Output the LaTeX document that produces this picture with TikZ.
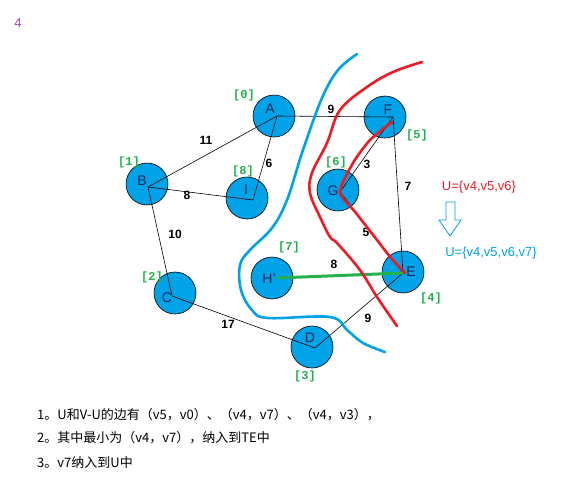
\documentclass[tikz,border=0pt]{standalone}
\usepackage{fontspec}
\setmainfont{Liberation Sans}
\newfontfamily\cjk{Noto Sans CJK SC}
\newfontfamily\monob{Liberation Mono}
\definecolor{pblue}{RGB}{0,162,232}
\definecolor{pred}{RGB}{237,28,36}
\definecolor{pgreen}{RGB}{34,177,76}
\definecolor{ppurple}{RGB}{163,73,164}
\definecolor{letterc}{RGB}{20,40,90}
\begin{document}
\begin{tikzpicture}[x=1pt,y=-1pt,
  vert/.style={circle,draw=black,fill=pblue,minimum size=42pt,inner sep=0pt,line width=0.6pt},
  lett/.style={font=\fontsize{14}{14}\selectfont,text=letterc,inner sep=0pt},
  idx/.style={font=\monob\bfseries\fontsize{12}{12}\selectfont,text=pgreen,inner sep=0pt},
  wt/.style={font=\bfseries\fontsize{12}{12}\selectfont,inner sep=0pt},
  edg/.style={black,line width=0.6pt},
  freehand/.style={line width=2.6pt,line cap=round,line join=round},
  txt/.style={font=\cjk\fontsize{13}{13}\selectfont,anchor=west,inner sep=0pt}]
\useasboundingbox (0,0) rectangle (586,480);
\fill[white] (0,0) rectangle (586,480);
\node[font=\fontsize{13}{13}\selectfont,text=ppurple] (title) at (18,23) {4};
% vertices
\node[vert] (A) at (274,116) {};
\node[vert] (B) at (147,184) {};
\node[vert] (I) at (247,198) {};
\node[vert] (F) at (385,117) {};
\node[vert] (G) at (338,190) {};
\node[vert] (C) at (175,293) {};
\node[vert] (H) at (272,278) {};
\node[vert] (D) at (312,347) {};
\node[vert] (E) at (403,272) {};
\node[lett] (lA) at (270,109) {A};
\node[lett] (lB) at (142,181) {B};
\node[lett] (lI) at (246,190) {I};
\node[lett] (lF) at (388,110) {F};
\node[lett] (lG) at (333,191) {G};
\node[lett] (lH) at (269,279) {H'};
\node[lett] (lC) at (167,298) {C};
\node[lett] (lD) at (310,338) {D};
\node[lett] (lE) at (411,272) {E};
% edge points
\coordinate (pA) at (277,116);
\coordinate (pB) at (148,187);
\coordinate (pI) at (253,200);
\coordinate (pF) at (393,117);
\coordinate (pG) at (340,192);
\coordinate (pC) at (172,296);
\coordinate (pH) at (277,278);
\coordinate (pD) at (315,348);
\coordinate (pE) at (403,273);
% edges
\draw[edg] (pB) -- (pA);
\draw[edg] (pB) -- (pI);
\draw[edg] (pI) -- (pA);
\draw[edg] (pA) -- (pF);
\draw[edg] (pF) -- (pE);
\draw[edg] (pG) -- (pF);
\draw[edg] (pG) -- (pE);
\draw[edg] (pB) -- (pC);
\draw[edg] (pC) -- (pD);
\draw[edg] (pD) -- (pE);
\draw[edg] (pH) -- (pE);
\draw[pgreen,line width=3pt] (pH) -- (pE);
% weights
\node[wt] (w11) at (206,140) {11};
\node[wt] (w8a) at (187,195) {8};
\node[wt] (w6) at (269,163) {6};
\node[wt] (w9a) at (331,109) {9};
\node[wt] (w3) at (367,164) {3};
\node[wt] (w7) at (408,186) {7};
\node[wt] (w5) at (366,232) {5};
\node[wt] (w10) at (175,234) {10};
\node[wt] (w8b) at (334,264) {8};
\node[wt] (w17) at (228,324) {17};
\node[wt] (w9b) at (368,318) {9};
% indices
\node[idx] (iA) at (244,95) {[0]};
\node[idx] (iB) at (129,162) {[1]};
\node[idx] (iI) at (243,171) {[8]};
\node[idx] (iF) at (417,135) {[5]};
\node[idx] (iG) at (336,162) {[6]};
\node[idx] (iH) at (289,247) {[7]};
\node[idx] (iC) at (152,277) {[2]};
\node[idx] (iD) at (305,376) {[3]};
\node[idx] (iE) at (431,298) {[4]};
% freehand curves
\draw[freehand,pblue] plot[smooth,tension=0.6] coordinates {(357,54) (338,70) (322,98) (303,150) (287,200) (272,228) (250,250) (240,265) (241,290) (252,310) (268,318) (330,317) (347,330) (363,343) (385,352)};
\draw[freehand,pred] plot[smooth,tension=0.6] coordinates {(422,62) (393,72) (367,87) (340,110) (327,143) (312,173) (310,193) (320,217) (330,237) (337,243) (360,270) (377,297) (397,326)};
\draw[freehand,pred] plot[smooth,tension=0.4] coordinates {(392,122) (370,140) (353,163) (340,192) (356,213) (377,240) (391,258) (405,273)};
% right texts
\node[font=\fontsize{13}{13}\selectfont,text=pred] (U1) at (479,187) {U=\{v4,v5,v6\}};
\draw[pblue,line width=0.8pt,line join=miter] (446,202) -- (455,202) -- (455,220) -- (461,220) -- (450,236) -- (439,220) -- (446,220) -- cycle;
\node[font=\fontsize{13}{13}\selectfont,text=pblue] (U2) at (491,253) {U=\{v4,v5,v6,v7\}};
% bottom text
\node[txt] (t1) at (37,415) {1。U和V-U的边有（v5，v0）、（v4，v7）、（v4，v3），};
\node[txt] (t2) at (37,438) {2。其中最小为（v4，v7），纳入到TE中};
\node[txt] (t3) at (37,463) {3。v7纳入到U中};
\end{tikzpicture}
\end{document}
